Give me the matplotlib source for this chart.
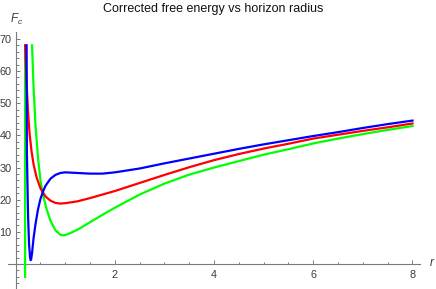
from __future__ import annotations

import numpy as np
import matplotlib

matplotlib.use("Agg")
import matplotlib.pyplot as plt
from matplotlib.ticker import FixedLocator


TITLE = "Corrected free energy vs horizon radius"

# Values (r, F_c); NaN breaks the green curve at its pole.
red_r = [0.19, 0.22, 0.25, 0.28, 0.32, 0.36, 0.42, 0.50, 0.60, 0.70, 0.80, 0.90,
         1.00, 1.25, 1.50, 1.75, 2.00, 2.50, 3.00, 3.50, 4.00, 4.50, 5.00, 5.50,
         6.00, 6.50, 7.00, 7.50, 8.00]
red_f = [68.0, 56.0, 47.0, 40.5, 35.0, 31.0, 27.0, 23.5, 21.0, 19.7, 19.0, 18.8,
         18.9, 19.5, 20.5, 21.6, 22.7, 25.2, 27.7, 30.1, 32.3, 34.2, 35.9, 37.4,
         39.0, 40.2, 41.4, 42.5, 43.7]

green_r = [0.19, 0.19, np.nan, 0.33, 0.36, 0.40, 0.45, 0.50, 0.55, 0.62, 0.70,
           0.80, 0.90, 0.96, 1.00, 1.10, 1.25, 1.50, 1.75, 2.00, 2.50, 3.00,
           3.50, 4.00, 4.50, 5.00, 5.50, 6.00, 6.50, 7.00, 7.50, 8.00]
green_f = [-4.0, 68.0, np.nan, 68.0, 55.0, 43.0, 33.0, 26.0, 21.5, 17.2, 13.5,
           10.5, 9.1, 8.9, 9.0, 9.6, 10.7, 13.0, 15.3, 17.5, 21.6, 25.0,
           27.8, 30.0, 32.0, 34.0, 35.7, 37.5, 39.0, 40.4, 41.7, 42.9]

blue_r = [0.22, 0.225, 0.25, 0.27, 0.29, 0.30, 0.31, 0.33, 0.36, 0.40, 0.45,
          0.50, 0.55, 0.60, 0.70, 0.80, 0.90, 1.00, 1.25, 1.50, 1.75, 2.00,
          2.50, 3.00, 3.50, 4.00, 4.50, 5.00, 5.50, 6.00, 6.50, 7.00, 7.50, 8.00]
blue_f = [68.0, 35.0, 14.7, 6.0, 2.0, 1.2, 1.3, 3.5, 8.0, 12.5, 17.0,
          20.3, 22.5, 24.3, 26.5, 27.7, 28.3, 28.5, 28.3, 28.1, 28.1, 28.5,
          29.7, 31.3, 32.8, 34.3, 35.8, 37.2, 38.5, 39.8, 41.0, 42.3, 43.5, 44.6]

x_major = [2, 4, 6, 8]
y_major = [10, 20, 30, 40, 50, 60, 70]


def main() -> int:
	plt.rcParams["font.family"] = ["Liberation Sans", "DejaVu Sans"]
	plt.rcParams["mathtext.fontset"] = "custom"
	plt.rcParams["mathtext.it"] = "Liberation Sans:italic"
	plt.rcParams["mathtext.rm"] = "Liberation Sans"

	fig = plt.figure(figsize=(4.36, 2.89), dpi=100)
	ax = fig.add_axes([0, 0, 1, 1])
	ax.patch.set_alpha(0)

	ax.plot(green_r, green_f, color=(0, 1, 0), lw=1.6, zorder=3, solid_joinstyle="round")
	ax.plot(red_r, red_f, color=(1, 0, 0), lw=1.6, zorder=4, solid_joinstyle="round")
	ax.plot(blue_r, blue_f, color=(0, 0, 1), lw=1.6, zorder=5, solid_joinstyle="round")

	ax.set_xlim(-0.3165, 8.474)
	ax.set_ylim(-7.78, 82.1)

	# Mathematica style axes crossing at the origin
	for side in ("top", "right"):
		ax.spines[side].set_visible(False)
	axis_gray = "#7a7a7a"
	ax.spines["left"].set_position(("data", 0))
	ax.spines["bottom"].set_position(("data", 0))
	ax.spines["left"].set_bounds(-7.78, 72)
	ax.spines["bottom"].set_bounds(-0.16, 8.15)
	for side in ("left", "bottom"):
		ax.spines[side].set_color(axis_gray)
		ax.spines[side].set_linewidth(0.8)

	ax.xaxis.set_major_locator(FixedLocator(x_major))
	ax.xaxis.set_minor_locator(FixedLocator(np.arange(0.5, 8.01, 0.5)))
	ax.yaxis.set_major_locator(FixedLocator(y_major))
	ax.yaxis.set_minor_locator(FixedLocator(np.arange(-6, 71, 2)))

	ax.tick_params(which="both", direction="in", color=axis_gray, width=0.7,
				   labelsize=7.8, labelcolor="#3a3a3a")
	ax.tick_params(which="major", length=3.0)
	ax.tick_params(which="minor", length=1.8)
	ax.tick_params(axis="x", pad=4)
	ax.tick_params(axis="y", pad=3)

	fig.text(213.5 / 436, 1 - 9 / 289, TITLE, ha="center", va="center",
			 fontsize=9.0, color="#111111")
	fig.text(10 / 436, 1 - 19 / 289, "$F_c$", ha="left", va="center",
			 fontsize=8.5, color="#3a3a3a")
	fig.text(432 / 436, 1 - 263 / 289, "$r$", ha="center", va="center",
			 fontsize=8.5, color="#3a3a3a")

	fig.savefig("out.png", dpi=100)
	plt.close(fig)
	return 0


if __name__ == "__main__":
	raise SystemExit(main())
